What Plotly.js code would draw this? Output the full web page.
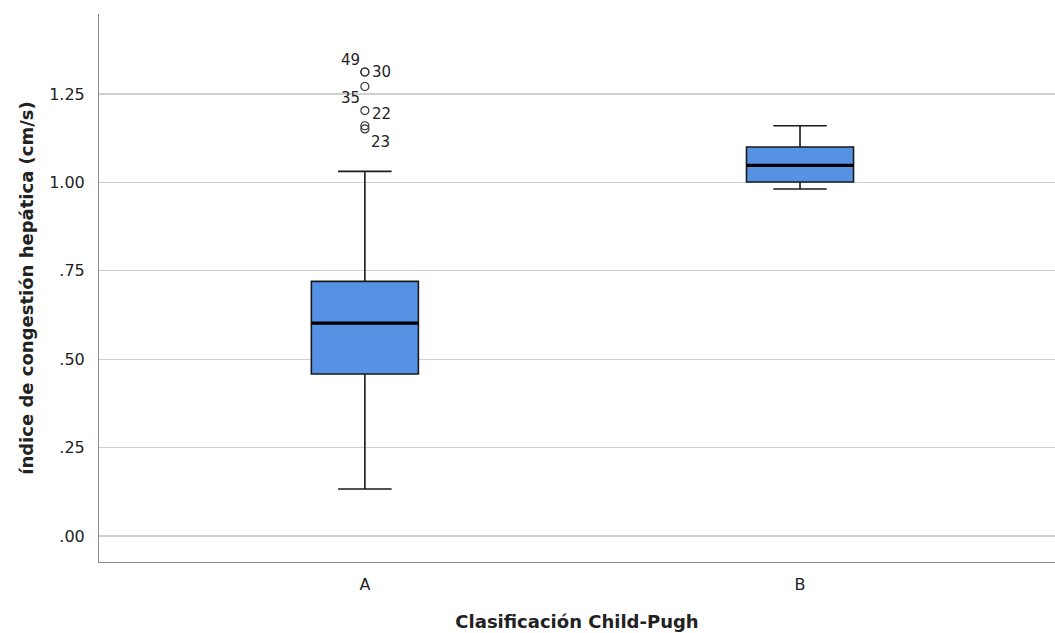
<!DOCTYPE html>
<html>
<head>
<meta charset="utf-8">
<script src="https://cdn.plot.ly/plotly-3.0.1.min.js"></script>
<style>
  html, body { margin: 0; padding: 0; background: #fff; }
  #chart { width: 1055px; height: 633px; }
</style>
</head>
<body>
<div id="chart"></div>
<script>
// Child-Pugh groups and the box statistics of the hepatic congestion index
const categories = ['A', 'B'];
const q1 = [0.458, 1.001];
const median = [0.602, 1.048];
const q3 = [0.720, 1.100];
const lowerFence = [0.133, 0.981];
const upperFence = [1.031, 1.160];

// Outliers of group A with their case numbers
const outlierVals = [1.312, 1.312, 1.271, 1.203, 1.160, 1.151];
const outlierIds = ['49', '30', '35', '22', '', '23'];

// Tick values / labels for the index axis
const yTickVals = [0, 0.25, 0.5, 0.75, 1.0, 1.25];
const yTickText = ['.00', '.25', '.50', '.75', '1.00', '1.25'];

const xPos = categories.map((_, i) => i);
const BOX_W = 0.246;
const FILL = '#5592e3';
const FONT = 'DejaVu Sans, Verdana, sans-serif';

const traces = [];
categories.forEach((c, i) => {
  traces.push({
    type: 'box',
    x: [xPos[i]],
    q1: [q1[i]], median: [median[i]], q3: [q3[i]],
    lowerfence: [lowerFence[i]], upperfence: [upperFence[i]],
    width: BOX_W,
    whiskerwidth: 0.5,
    fillcolor: FILL,
    line: { color: '#1a1a1a', width: 1.6 },
    boxpoints: false,
    hoverinfo: 'skip',
    showlegend: false
  });
  // heavier median stroke
  traces.push({
    type: 'scatter', mode: 'lines',
    x: [xPos[i] - BOX_W / 2, xPos[i] + BOX_W / 2],
    y: [median[i], median[i]],
    line: { color: '#000', width: 3.2 },
    hoverinfo: 'skip', showlegend: false
  });
});

traces.push({
  type: 'scatter', mode: 'markers',
  x: outlierVals.map(() => xPos[0]),
  y: outlierVals,
  marker: { symbol: 'circle-open', size: 8, color: '#333', line: { width: 1.2, color: '#333' } },
  hoverinfo: 'skip', showlegend: false
});

// case-number labels placed around the outlier circles
const labelOffsets = {
  '49': { ax: -14, ay: -12 },
  '30': { ax: 17, ay: 0 },
  '35': { ax: -14, ay: 11 },
  '22': { ax: 17, ay: 3 },
  '23': { ax: 16, ay: 13 }
};
const annotations = [];
outlierIds.forEach((id, k) => {
  if (!id) return;
  const o = labelOffsets[id];
  annotations.push({
    x: xPos[0], y: outlierVals[k], xref: 'x', yref: 'y',
    text: id, showarrow: false, xshift: o.ax, yshift: -o.ay,
    font: { family: FONT, size: 15, color: '#222' }
  });
});

const layout = {
  width: 1055, height: 633,
  margin: { l: 99, r: 0, t: 14, b: 71 },
  paper_bgcolor: '#fff', plot_bgcolor: '#fff',
  font: { family: FONT, color: '#222' },
  xaxis: {
    range: [-0.611, 1.586],
    tickvals: xPos, ticktext: categories,
    showgrid: false, zeroline: false,
    showline: true, linecolor: '#8a8a8a', linewidth: 1,
    ticks: '', ticklabelstandoff: 8,
    tickfont: { size: 16, color: '#222' },
    title: { text: '<b>Clasificación Child-Pugh</b>', font: { size: 18, color: '#222' }, standoff: 22 }
  },
  yaxis: {
    range: [-0.0735, 1.476],
    tickvals: yTickVals, ticktext: yTickText,
    showgrid: true, gridcolor: '#cfcfcf', gridwidth: 1.2,
    zeroline: false,
    showline: true, linecolor: '#8a8a8a', linewidth: 1,
    ticks: '', ticklabelstandoff: 10,
    tickfont: { size: 16, color: '#222' },
    title: { text: '<b>índice de congestión hepática (cm/s)</b>', font: { size: 18, color: '#222' }, standoff: 10 }
  },
  annotations: annotations
};

Plotly.newPlot('chart', traces, layout, { displayModeBar: false, staticPlot: true });
</script>
</body>
</html>
